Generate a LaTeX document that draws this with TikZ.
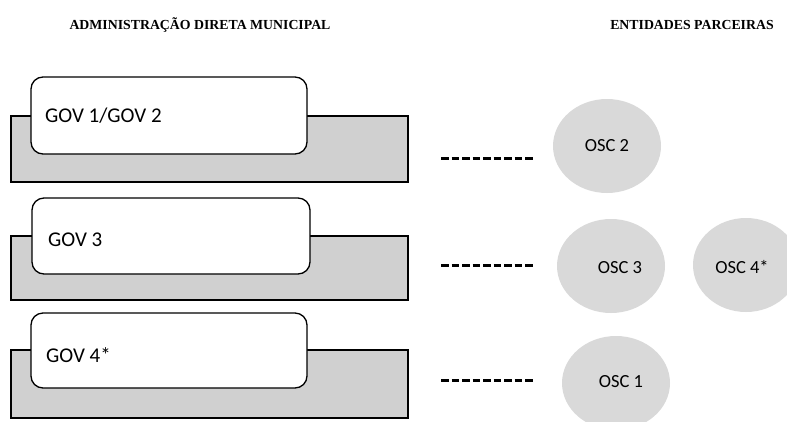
\documentclass[tikz,border=0pt]{standalone}
\usepackage{fontspec}
\setmainfont{Liberation Serif}
\newfontfamily\calib{Carlito}
\usetikzlibrary{shapes.geometric}
\definecolor{rectgray}{RGB}{208,208,208}
\definecolor{ellgray}{RGB}{217,217,217}
\begin{document}
\begin{tikzpicture}[x=1pt,y=-1pt,
  base/.style={draw=black,line width=1.3pt,fill=rectgray},
  tab/.style={draw=black,line width=1.3pt,fill=white,rounded corners=12pt},
  govlabel/.style={anchor=west,inner sep=0pt,font=\calib\fontsize{21}{24}\selectfont},
  osc/.style={ellipse,fill=ellgray,draw=none,minimum width=108pt,minimum height=94pt,inner sep=0pt},
  osclabel/.style={inner sep=0pt,font=\calib\fontsize{18.5}{22}\selectfont},
  header/.style={inner sep=0pt,font=\bfseries\fontsize{13.8}{16}\selectfont},
  link/.style={line width=3pt,dash pattern=on 7.5pt off 3pt}]
\useasboundingbox (0,0) rectangle (787,421);
% headers
\node[header] (h1) at (200,25) {ADMINISTRAÇÃO DIRETA MUNICIPAL};
\node[header] (h2) at (692,25) {ENTIDADES PARCEIRAS};
% row 1
\draw[base] (11,116) rectangle (408,182);
\draw[tab] (31,77) rectangle (307,154);
\node[govlabel] (g1) at (45,116) {GOV 1/GOV 2};
% row 2
\draw[base] (11,236) rectangle (408,300);
\draw[tab] (32,198) rectangle (310,274);
\node[govlabel] (g2) at (48,240) {GOV 3};
% row 3
\draw[base] (11,350) rectangle (408,418);
\draw[tab] (31,313) rectangle (307,388);
\node[govlabel] (g3) at (46,355) {GOV 4*};
% ellipses
\node[osc] (o2) at (607,146) {};
\node[osclabel] at (o2) {OSC 2};
\node[osc] (o3) at (611,266) {};
\node[osclabel] at (620,268) {OSC 3};
\node[osc,minimum width=106pt] (o4) at (746,265) {};
\node[osclabel] at (742,267) {OSC 4*};
\node[osc] (o1) at (616,383) {};
\node[osclabel] at (621,382) {OSC 1};
% dashes
\coordinate (d1a) at (441,158); \coordinate (d1b) at (535,158);
\coordinate (d2a) at (441,265); \coordinate (d2b) at (535,265);
\coordinate (d3a) at (441,380); \coordinate (d3b) at (535,380);
\draw[link] (d1a) -- (d1b);
\draw[link] (d2a) -- (d2b);
\draw[link] (d3a) -- (d3b);
\end{tikzpicture}
\end{document}
